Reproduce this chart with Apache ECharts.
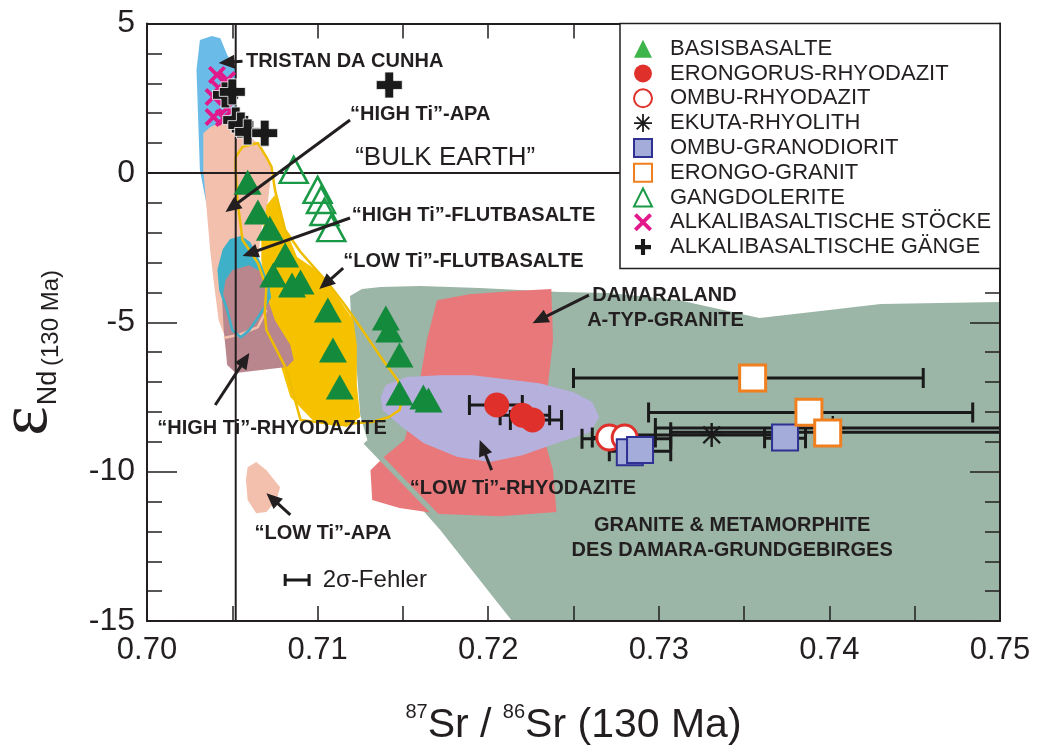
<!DOCTYPE html>
<html><head><meta charset="utf-8">
<script src="https://cdn.jsdelivr.net/npm/echarts@6/dist/echarts.min.js"></script>
<style>html,body{margin:0;padding:0;background:#fff}#c{width:1039px;height:754px}</style>
</head><body><div id="c"></div>
<script>
// ---------------- DATA ----------------
const xMin = 0.70, xMax = 0.75, yMin = -15, yMax = 5;
const bulkEarthSr = 0.7052, bulkEarthNd = 0;

// fields (polygons) [87Sr/86Sr, eNd]
const tristanField = [[0.7031,4.45],[0.7038,4.58],[0.7043,4.51],[0.7047,3.95],[0.7052,3.44],[0.7053,1.77],[0.7052,0.77],[0.7052,-0.91],[0.7047,-1.31],[0.7039,-1.31],[0.7035,-1.08],[0.7031,0.10],[0.7030,1.77],[0.7029,3.44]];
const highTiApaField = [[0.7033,1.33],[0.7037,1.53],[0.7042,1.67],[0.7053,1.57],[0.7060,1.23],[0.7066,0.93],[0.7071,0.50],[0.7073,0.10],[0.7071,-0.91],[0.7067,-1.91],[0.7065,-2.92],[0.7067,-4.26],[0.7065,-5.16],[0.7046,-5.53],[0.7042,-4.93],[0.7039,-3.59],[0.7037,-2.58],[0.7035,-1.24],[0.7033,0.10]];
const highTiApaEdge = [[0.7045,-5.53],[0.7055,-5.40],[0.7065,-5.16],[0.7070,-4.59]];
const lowTiFlutField = [[0.7070,-1.08],[0.7075,-0.74],[0.7081,-1.85],[0.7088,-2.82],[0.7101,-3.32],[0.7113,-4.26],[0.7121,-4.93],[0.7123,-5.76],[0.7123,-7.10],[0.7125,-8.17],[0.7117,-8.51],[0.7097,-8.27],[0.7084,-7.50],[0.7078,-6.37],[0.7070,-4.26],[0.7067,-2.92],[0.7067,-2.25]];
const basaltOutline = [[0.7052,0.53],[0.7056,0.87],[0.7065,1.00],[0.7070,0.53],[0.7073,0.20],[0.7075,-0.57],[0.7081,-1.91],[0.7090,-2.65],[0.7107,-3.75],[0.7116,-4.42],[0.7125,-5.16],[0.7137,-6.16],[0.7147,-6.94],[0.7150,-7.50],[0.7148,-7.94],[0.7142,-8.17],[0.7132,-8.34],[0.7123,-8.37],[0.7113,-8.44],[0.7090,-8.27],[0.7082,-6.60],[0.7078,-6.16],[0.7070,-5.26],[0.7069,-4.69],[0.7070,-3.82],[0.7065,-3.02],[0.7060,-2.58],[0.7056,-2.25],[0.7053,-0.91],[0.7052,0.10]];
const highTiFlutField = [[0.7043,-3.02],[0.7045,-2.58],[0.7049,-2.25],[0.7055,-2.15],[0.7060,-2.35],[0.7066,-3.02],[0.7071,-3.82],[0.7072,-4.16],[0.7069,-4.49],[0.7064,-4.93],[0.7060,-5.26],[0.7055,-5.50],[0.7050,-5.26],[0.7047,-4.59],[0.7043,-3.92],[0.7042,-3.25]];
const highTiRhyoField = [[0.7046,-3.59],[0.7050,-3.25],[0.7060,-3.09],[0.7067,-3.32],[0.7070,-4.09],[0.7075,-4.93],[0.7084,-5.76],[0.7086,-6.26],[0.7082,-6.50],[0.7067,-6.60],[0.7052,-6.70],[0.7047,-6.43],[0.7045,-5.26],[0.7044,-4.26]];
const lowTiApaField = [[0.7059,-9.85],[0.7064,-9.68],[0.7070,-9.95],[0.7078,-10.52],[0.7076,-10.95],[0.7070,-11.35],[0.7064,-11.39],[0.7059,-10.95],[0.7058,-10.28]];
const damaraField = [[0.7119,-4.12],[0.7126,-3.89],[0.7137,-3.82],[0.7160,-3.79],[0.7195,-3.85],[0.7242,-3.99],[0.7271,-4.02],[0.7312,-4.26],[0.7359,-4.86],[0.7400,-4.59],[0.7430,-4.39],[0.7500,-4.32],[0.7500,-15],[0.7214,-15],[0.7172,-11.96],[0.7142,-10.02],[0.7130,-9.11],[0.7125,-8.11],[0.7123,-6.60],[0.7120,-5.26]];
const damaraEdge = [[0.7128,-9.01],[0.7175,-11.79]];
const aTypField = [[0.7170,-4.26],[0.7189,-4.06],[0.7213,-3.96],[0.7237,-3.89],[0.7238,-5.60],[0.7234,-7.61],[0.7233,-8.94],[0.7238,-9.95],[0.7240,-11.35],[0.7207,-11.49],[0.7172,-11.42],[0.7148,-11.22],[0.7132,-10.95],[0.7131,-9.95],[0.7140,-9.45],[0.7151,-8.94],[0.7159,-7.27],[0.7164,-5.60]];
const lowTiRhyoField = [[0.7137,-7.50],[0.7140,-7.10],[0.7152,-6.83],[0.7172,-6.77],[0.7191,-6.77],[0.7230,-7.04],[0.7250,-7.34],[0.7261,-7.67],[0.7265,-8.17],[0.7260,-8.68],[0.7242,-9.01],[0.7220,-9.45],[0.7201,-9.68],[0.7182,-9.51],[0.7162,-9.04],[0.7148,-8.44],[0.7138,-7.94]];

// samples
const basisbasalte = [[0.7059,-0.31],[0.7065,-1.31],[0.7072,-1.85],[0.7081,-2.75],[0.7074,-3.42],[0.7085,-3.75],[0.7090,-3.65],[0.7106,-4.59],[0.7109,-5.93],[0.7113,-7.17],[0.7140,-4.86],[0.7142,-5.26],[0.7148,-6.10],[0.7148,-7.37],[0.7162,-7.50],[0.7165,-7.60]];
const erongorusRhyodazit = [[0.7205,-7.77],[0.7220,-8.11],[0.7226,-8.27]];
const ombuRhyodazit = [[0.7271,-8.86],[0.7280,-8.86]];
const ekutaRhyolith = [[0.7331,-8.77],[0.7402,-8.54]];
const ombuGranodiorit = [[0.7283,-9.35],[0.7289,-9.28],[0.7374,-8.86]];
const erongoGranit = [[0.7355,-6.87],[0.7388,-8.01],[0.7399,-8.71]];
const gangdolerite = [[0.7086,0.10],[0.7100,-0.57],[0.7102,-0.91],[0.7104,-1.31],[0.7108,-1.85]];
const alkaliStoecke = [[0.7041,3.28],[0.7047,3.11],[0.7042,2.84],[0.7039,2.54],[0.7047,2.17],[0.7039,1.87],[0.7045,1.84]];
const alkaliGaenge = [[0.7142,2.94],[0.7046,2.61],[0.7050,2.71],[0.7052,1.77],[0.7055,1.60],[0.7059,1.37],[0.7069,1.33]];

// 2-sigma error bars [eNd, Sr min, Sr max]
const errorBars = [[-7.77,0.7189,0.7220],[-8.11,0.7207,0.7236],[-8.27,0.7213,0.7243],[-8.86,0.7261,0.7298],[-8.90,0.7255,0.7307],[-9.32,0.7271,0.7307],[-8.77,0.7274,0.7379],[-8.54,0.7298,0.7600],[-8.68,0.7307,0.7600],[-8.88,0.7362,0.7386],[-6.87,0.7250,0.7455],[-8.02,0.7294,0.7484]];
const sigmaBar = [[-13.63,0.7081,0.7095]];

// annotations
const arrows = [[0.7056,3.74,0.7042,3.68],[0.7119,1.77,0.7046,-1.31],[0.7119,-1.51,0.7056,-2.78],[0.7115,-3.19,0.7101,-3.89],[0.7040,-7.77,0.7060,-6.03],[0.7259,-4.09,0.7226,-5.03],[0.7202,-9.95,0.7195,-8.94],[0.7084,-11.45,0.7070,-10.72]];
const labels = [["TRISTAN DA CUNHA",0.7058,3.74,"left"],["\u201CHIGH Ti\u201D-APA",0.7119,1.94,"left"],["\u201CHIGH Ti\u201D-FLUTBASALTE",0.7120,-1.41,"left"],["\u201CLOW Ti\u201D-FLUTBASALTE",0.7115,-2.98,"left"],["\u201CHIGH Ti\u201D-RHYODAZITE",0.7006,-8.54,"left"],["DAMARALAND",0.7261,-4.09,"left"],["A-TYP-GRANITE",0.7258,-4.93,"left"],["\u201CLOW Ti\u201D-RHYODAZITE",0.7154,-10.55,"left"],["\u201CLOW Ti\u201D-APA",0.7063,-12.06,"left"],["GRANITE & METAMORPHITE",0.7343,-11.79,"center"],["DES DAMARA-GRUNDGEBIRGES",0.7343,-12.63,"center"]];
const bulkEarthLabel = [["\u201CBULK EARTH\u201D",0.7122,0.50]];
const sigmaLabel = [["2\u03C3-Fehler",0.7103,-13.63]];

// ---------------- STYLE / BUILD ----------------
const FONT = '"Liberation Sans", Arial, Helvetica, sans-serif';
const INK = '#231f20';

function polyFill(pts, fill, z) {
  return {type:'custom', silent:true, clip:true, z:z, data:[pts[0]],
    renderItem:(p, api)=>({type:'polygon', shape:{points:pts.map(q=>api.coord(q))}, style:{fill:fill}})};
}
function polyStroke(pts, stroke, w, closed, z) {
  return {type:'custom', silent:true, clip:true, z:z, data:[pts[0]],
    renderItem:(p, api)=>({type: closed?'polygon':'polyline', shape:{points:pts.map(q=>api.coord(q))}, style:{fill:null, stroke:stroke, lineWidth:w, lineJoin:'round'}})};
}
function barSeries(rows, cap, w, z) {
  return {type:'custom', silent:true, clip:true, z:z, data:rows, dimensions:['y','x1','x2'], encode:{x:['x1','x2'], y:'y'},
    renderItem:(p, api)=>{
      const y=api.value(0), a=api.coord([api.value(1),y]), b=api.coord([api.value(2),y]);
      const st={stroke:'#1a1a1a', lineWidth:w};
      return {type:'group', children:[
        {type:'line', shape:{x1:a[0],y1:a[1],x2:b[0],y2:b[1]}, style:st},
        {type:'line', shape:{x1:a[0],y1:a[1]-cap,x2:a[0],y2:a[1]+cap}, style:st},
        {type:'line', shape:{x1:b[0],y1:b[1]-cap,x2:b[0],y2:b[1]+cap}, style:st}]};
    }};
}
function textSeries(rows, size, weight, z) {
  return {type:'custom', silent:true, clip:false, z:z, data:rows.map(r=>[r[1],r[2]]),
    renderItem:(p, api)=>{
      const r=rows[p.dataIndex], c=api.coord([r[1],r[2]]);
      return {type:'text', x:c[0], y:c[1], style:{text:r[0], fill:INK, fontSize:size, fontWeight:weight, fontFamily:FONT, align:r[3]||'left', verticalAlign:'middle'}};
    }};
}

const P_PLUS = 'path://M33,0 L67,0 L67,33 L100,33 L100,67 L67,67 L67,100 L33,100 L33,67 L0,67 L0,33 L33,33 Z';
const P_X = 'path://M0,15 L15,0 L50,35 L85,0 L100,15 L65,50 L100,85 L85,100 L50,65 L15,100 L0,85 L35,50 Z';
const P_AST = 'path://M45,0 L55,0 L55,100 L45,100 Z M0,45 L100,45 L100,55 L0,55 Z M18.5,11.5 L88.5,81.5 L81.5,88.5 L11.5,18.5 Z M88.5,18.5 L18.5,88.5 L11.5,81.5 L81.5,11.5 Z';

const axisCommon = {
  axisLine:{show:true, onZero:false, lineStyle:{color:INK, width:2}},
  splitLine:{show:false}, minorSplitLine:{show:false}, z:6
};

const series = [
  polyFill(damaraField, '#9bb5a6', 1),
  polyFill(aTypField, '#e8787a', 1),
  polyStroke(damaraEdge, '#9bb5a6', 5, false, 1),
  polyFill(lowTiRhyoField, '#b6b0dc', 1),
  polyFill(tristanField, '#6bbbe8', 1),
  polyFill(highTiApaField, '#f3c0ae', 1),
  polyFill(lowTiApaField, '#f3c0ae', 1),
  polyFill(lowTiFlutField, '#f6c200', 1),
  polyFill(highTiFlutField, '#3eb1c9', 1),
  polyFill(highTiRhyoField, '#b8868c', 1),
  polyStroke(highTiApaEdge, '#f3c0ae', 2.5, false, 1),
  polyStroke(highTiFlutField, '#3eb1c9', 2.5, true, 1),
  polyStroke(basaltOutline, '#efbd00', 2.5, true, 1),
  {type:'line', silent:true, z:2, symbol:'none', data:[[bulkEarthSr,yMin],[bulkEarthSr,yMax]], lineStyle:{color:INK, width:2}},
  {type:'line', silent:true, z:2, symbol:'none', data:[[xMin,bulkEarthNd],[xMax,bulkEarthNd]], lineStyle:{color:INK, width:2}},
  barSeries(errorBars, 10, 3, 3),
  barSeries(sigmaBar, 6, 3, 3),
  {type:'scatter', name:'BASISBASALTE', z:4, data:basisbasalte, symbol:'triangle', symbolSize:[28,25], itemStyle:{color:'#138a3c', opacity:1}},
  {type:'scatter', name:'ERONGORUS-RHYODAZIT', z:4, data:erongorusRhyodazit, symbol:'circle', symbolSize:25, itemStyle:{color:'#e0302b', opacity:1}},
  {type:'scatter', name:'OMBU-RHYODAZIT', z:4, data:ombuRhyodazit, symbol:'circle', symbolSize:25, itemStyle:{color:'#ffffff', borderColor:'#e0302b', borderWidth:3, opacity:1}},
  {type:'scatter', name:'EKUTA-RHYOLITH', z:4, data:ekutaRhyolith, symbol:P_AST, symbolSize:24, itemStyle:{color:'#1a1a1a', opacity:1}},
  {type:'scatter', name:'OMBU-GRANODIORIT', z:4, data:ombuGranodiorit, symbol:'rect', symbolSize:26, itemStyle:{color:'#a4acd9', borderColor:'#2e3192', borderWidth:2, opacity:1}},
  {type:'scatter', name:'ERONGO-GRANIT', z:4, data:erongoGranit, symbol:'rect', symbolSize:26, itemStyle:{color:'#ffffff', borderColor:'#f07f20', borderWidth:3, opacity:1}},
  {type:'scatter', name:'GANGDOLERITE', z:4, data:gangdolerite, symbol:'triangle', symbolSize:[28,26], itemStyle:{color:'rgba(255,255,255,0)', borderColor:'#1a9a46', borderWidth:2.5, opacity:1}},
  {type:'scatter', name:'ALKALIBASALTISCHE STÖCKE', z:4, data:alkaliStoecke, symbol:P_X, symbolSize:18, itemStyle:{color:'#e2198a', opacity:1}},
  {type:'scatter', name:'ALKALIBASALTISCHE GÄNGE', z:4, data:alkaliGaenge, symbol:P_PLUS, symbolSize:26, itemStyle:{color:'#1a1a1a', borderColor:'#ffffff', borderWidth:0.8, opacity:1}},
  {type:'custom', silent:true, clip:false, z:5, data:arrows, encode:{x:[0,2], y:[1,3]},
    renderItem:(p, api)=>{
      const a=api.coord([api.value(0),api.value(1)]), b=api.coord([api.value(2),api.value(3)]);
      const dx=b[0]-a[0], dy=b[1]-a[1], L=Math.hypot(dx,dy), ux=dx/L, uy=dy/L, hl=16, hw=7;
      const bx=b[0]-ux*hl, by=b[1]-uy*hl;
      return {type:'group', children:[
        {type:'line', shape:{x1:a[0],y1:a[1],x2:b[0]-ux*(hl-3),y2:b[1]-uy*(hl-3)}, style:{stroke:INK, lineWidth:3}},
        {type:'polygon', shape:{points:[[b[0],b[1]],[bx-uy*hw,by+ux*hw],[bx+uy*hw,by-ux*hw]]}, style:{fill:INK}}]};
    }},
  textSeries(labels, 20, 'bold', 5),
  textSeries(bulkEarthLabel, 26, 'normal', 5),
  textSeries(sigmaLabel, 24, 'normal', 5)
];

const legendNames = ['BASISBASALTE','ERONGORUS-RHYODAZIT','OMBU-RHYODAZIT','EKUTA-RHYOLITH','OMBU-GRANODIORIT','ERONGO-GRANIT','GANGDOLERITE','ALKALIBASALTISCHE STÖCKE','ALKALIBASALTISCHE GÄNGE'];

const option = {
  animation:false,
  backgroundColor:'#ffffff',
  textStyle:{fontFamily:FONT},
  grid:{left:147, right:39, top:23.5, bottom:133},
  xAxis:[
    Object.assign({type:'value', min:xMin, max:xMax, interval:0.01, position:'bottom',
      axisTick:{inside:true, length:15, lineStyle:{color:INK, width:1.5}},
      minorTick:{show:true, splitNumber:2, length:15, lineStyle:{color:INK, width:1.5}},
      axisLabel:{fontSize:31, color:INK, margin:14, fontFamily:FONT, formatter:v=>v.toFixed(2)},
      name:'{sup|87}{m|Sr / }{sup|86}{m|Sr (130 Ma)}', nameLocation:'middle', nameGap:81,
      nameTextStyle:{rich:{
        sup:{fontSize:20, lineHeight:26, verticalAlign:'top', color:INK, fontFamily:FONT},
        m:{fontSize:41, lineHeight:44, verticalAlign:'bottom', color:INK, fontFamily:FONT}}}
    }, axisCommon),
    Object.assign({type:'value', min:xMin, max:xMax, interval:0.01, position:'top',
      axisTick:{inside:true, length:15, lineStyle:{color:INK, width:1.5}},
      minorTick:{show:true, splitNumber:2, length:15, lineStyle:{color:INK, width:1.5}},
      axisLabel:{show:false}}, axisCommon)
  ],
  yAxis:[
    Object.assign({type:'value', min:yMin, max:yMax, interval:5, position:'left',
      axisTick:{inside:true, length:30, lineStyle:{color:INK, width:1.5}},
      minorTick:{show:true, splitNumber:5, length:15, lineStyle:{color:INK, width:1.5}},
      axisLabel:{fontSize:32, color:INK, margin:12, fontFamily:FONT}}, axisCommon),
    Object.assign({type:'value', min:yMin, max:yMax, interval:5, position:'right',
      axisTick:{inside:true, length:30, lineStyle:{color:INK, width:1.5}},
      minorTick:{show:true, splitNumber:5, length:15, lineStyle:{color:INK, width:1.5}},
      axisLabel:{show:false}}, axisCommon)
  ],
  legend:{
    orient:'vertical', left:633, top:37.7, padding:0, itemGap:2.8, itemWidth:18, itemHeight:18,
    selectedMode:false, z:10,
    formatter: n => '{t|' + n + '}',
    textStyle:{fontSize:22, lineHeight:20, color:INK, fontFamily:FONT,
      rich:{t:{fontSize:22, lineHeight:20, color:INK, fontFamily:FONT, padding:[0,0,0,13]}}},
    data: legendNames.map(n => n==='BASISBASALTE' ? {name:n, itemStyle:{color:'#3db54a'}} : n)
  },
  graphic:[
    {type:'rect', z:8, shape:{x:620, y:23.5, width:380, height:245}, style:{fill:'#ffffff', stroke:INK, lineWidth:1.5}},
    {type:'text', z:8, x:28, y:421, rotation:Math.PI/2, style:{text:'\u03B5', fontSize:70, fontFamily:'"Liberation Serif", "DejaVu Serif", serif', fill:INK, align:'center', verticalAlign:'middle'}},
    {type:'text', z:8, x:49, y:388, rotation:Math.PI/2, style:{text:'Nd', fontSize:27, fontFamily:FONT, fill:INK, align:'center', verticalAlign:'middle'}},
    {type:'text', z:8, x:51, y:318, rotation:Math.PI/2, style:{text:'(130 Ma)', fontSize:24, fontFamily:FONT, fill:INK, align:'center', verticalAlign:'middle'}}
  ],
  series: series
};

const chart = echarts.init(document.getElementById('c'), null, {renderer:'canvas'});
chart.setOption(option);
</script></body></html>
